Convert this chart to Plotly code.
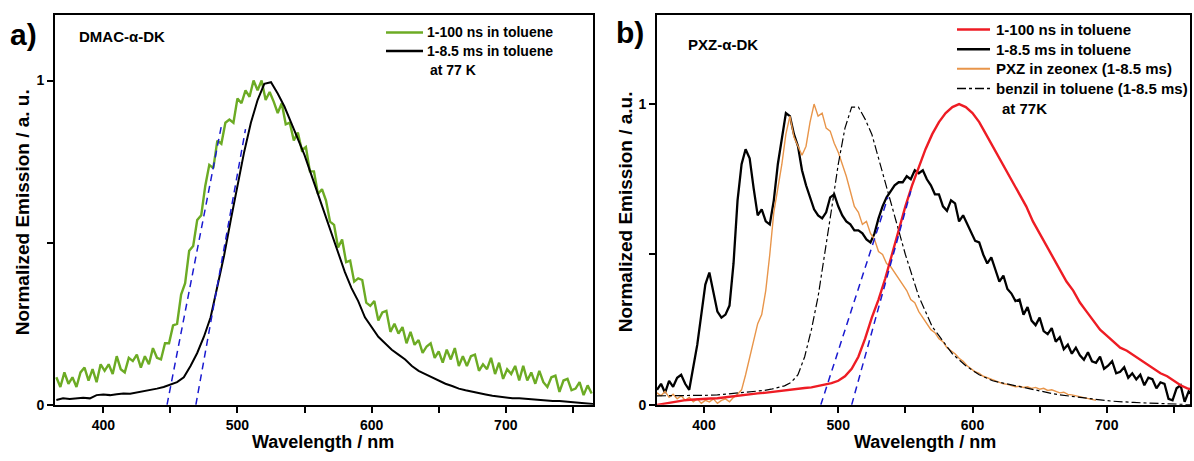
import plotly.graph_objects as go

W, H = 1194, 461

# ---------------- data ----------------
# panel a) DMAC-a-DK
wl_a_green = list(range(365, 767, 3))
a_green = [
    0.085, 0.055, 0.10, 0.065, 0.085, 0.055, 0.10, 0.115, 0.075, 0.11,
    0.07, 0.125, 0.105, 0.125, 0.095, 0.15, 0.11, 0.10, 0.145, 0.135,
    0.155, 0.115, 0.15, 0.125, 0.175, 0.145, 0.14, 0.19, 0.19, 0.245,
    0.25, 0.34, 0.375, 0.475, 0.49, 0.57, 0.585, 0.675, 0.74, 0.73,
    0.815, 0.805, 0.87, 0.88, 0.87, 0.945, 0.93, 0.97, 0.95, 1.0,
    0.97, 1.0, 0.94, 0.965, 0.935, 0.90, 0.93, 0.865, 0.87, 0.815,
    0.84, 0.785, 0.795, 0.72, 0.72, 0.65, 0.665, 0.63, 0.565, 0.555,
    0.485, 0.51, 0.44, 0.445, 0.38, 0.39, 0.385, 0.315, 0.305, 0.32,
    0.26, 0.285, 0.29, 0.225, 0.25, 0.22, 0.24, 0.19, 0.225, 0.185,
    0.20, 0.16, 0.18, 0.19, 0.145, 0.165, 0.13, 0.17, 0.14, 0.175,
    0.12, 0.15, 0.12, 0.15, 0.155, 0.105, 0.125, 0.11, 0.145, 0.095,
    0.13, 0.08, 0.11, 0.095, 0.12, 0.075, 0.12, 0.075, 0.10, 0.065,
    0.105, 0.07, 0.055, 0.085, 0.09, 0.04, 0.075, 0.08, 0.045, 0.05,
    0.07, 0.03, 0.06, 0.035,
]

wl_a_black = list(range(365, 766, 5))
a_black = [
    0.015, 0.02, 0.018, 0.02, 0.022, 0.02, 0.03, 0.032, 0.03, 0.033,
    0.035, 0.034, 0.038, 0.04, 0.045, 0.05, 0.055, 0.062, 0.07, 0.085,
    0.12, 0.16, 0.21, 0.27, 0.36, 0.46, 0.57, 0.68, 0.78, 0.87,
    0.94, 0.99, 0.995, 0.96, 0.92, 0.87, 0.82, 0.77, 0.71, 0.65,
    0.59, 0.53, 0.47, 0.41, 0.36, 0.32, 0.27, 0.24, 0.21, 0.19,
    0.17, 0.155, 0.14, 0.12, 0.105, 0.095, 0.085, 0.075, 0.065, 0.058,
    0.05, 0.045, 0.04, 0.035, 0.032, 0.028, 0.025, 0.023, 0.02, 0.02,
    0.018, 0.016, 0.015, 0.014, 0.012, 0.012, 0.01, 0.008, 0.006, 0.004,
    0.003,
]

# onset tangents (wavelength, intensity)
a_onset1_wl = [447.5, 488]
a_onset1_y = [0.0, 0.86]
a_onset2_wl = [469, 506]
a_onset2_y = [0.0, 0.85]

# panel b) PXZ-a-DK
wl_b_black = list(range(365, 767, 3))
b_black = [
    0.05, 0.07, 0.04, 0.08, 0.06, 0.09, 0.10, 0.07, 0.05, 0.13,
    0.20, 0.30, 0.40, 0.44, 0.37, 0.31, 0.29, 0.30, 0.33, 0.47,
    0.68, 0.80, 0.85, 0.82, 0.72, 0.63, 0.65, 0.61, 0.60, 0.68,
    0.80, 0.88, 0.97, 0.96, 0.90, 0.86, 0.78, 0.73, 0.69, 0.65,
    0.63, 0.62, 0.64, 0.69, 0.70, 0.66, 0.63, 0.61, 0.60, 0.58,
    0.58, 0.57, 0.55, 0.54, 0.57, 0.62, 0.66, 0.69, 0.71, 0.73,
    0.74, 0.74, 0.76, 0.75, 0.78, 0.77, 0.78, 0.75, 0.73, 0.70,
    0.70, 0.66, 0.645, 0.68, 0.67, 0.61, 0.63, 0.60, 0.575, 0.545,
    0.54, 0.50, 0.47, 0.49, 0.45, 0.41, 0.43, 0.385, 0.37, 0.345,
    0.35, 0.30, 0.325, 0.28, 0.265, 0.29, 0.245, 0.235, 0.255, 0.21,
    0.225, 0.185, 0.20, 0.17, 0.19, 0.165, 0.15, 0.175, 0.145, 0.14,
    0.16, 0.12, 0.13, 0.145, 0.105, 0.11, 0.125, 0.09, 0.105, 0.085,
    0.10, 0.065, 0.09, 0.085, 0.055, 0.075, 0.07, 0.02, 0.015, 0.055,
    0.065, 0.01, 0.045, 0.03,
]

wl_b_orange = list(range(365, 693, 3))
b_orange = [
    0.04, 0.03, 0.045, 0.025, 0.035, 0.02, 0.03, 0.015, 0.025, 0.01,
    0.02, 0.005, 0.015, 0.01, 0.02, 0.005, 0.015, 0.02, 0.01, 0.025,
    0.035, 0.05, 0.10, 0.16, 0.22, 0.27, 0.30, 0.38, 0.50, 0.64,
    0.72, 0.80, 0.90, 0.96, 0.89, 0.86, 0.83, 0.86, 0.94, 1.0,
    0.96, 0.97, 0.92, 0.91, 0.87, 0.84, 0.80, 0.76, 0.71, 0.66,
    0.64, 0.60, 0.61, 0.57, 0.55, 0.51, 0.50, 0.47, 0.46, 0.44,
    0.42, 0.40, 0.38, 0.35, 0.34, 0.31, 0.29, 0.27, 0.25, 0.24,
    0.22, 0.21, 0.19, 0.18, 0.17, 0.155, 0.145, 0.13, 0.12, 0.11,
    0.105, 0.095, 0.09, 0.085, 0.08, 0.075, 0.07, 0.068, 0.065, 0.06,
    0.062, 0.058, 0.06, 0.055, 0.058, 0.052, 0.055, 0.048, 0.05, 0.045,
    0.04, 0.042, 0.035, 0.033, 0.03, 0.028, 0.025, 0.02, 0.018, 0.015,
]

wl_b_smooth = list(range(365, 766, 5))
b_red = [
    0.0, 0.004, 0.008, 0.012, 0.015, 0.017, 0.019, 0.02, 0.021, 0.022,
    0.025, 0.028, 0.03, 0.033, 0.035, 0.038, 0.04, 0.043, 0.045, 0.048,
    0.05, 0.053, 0.056, 0.058, 0.062, 0.066, 0.072, 0.08, 0.095, 0.12,
    0.16, 0.22, 0.29, 0.35, 0.42, 0.50, 0.58, 0.66, 0.73, 0.79,
    0.85, 0.90, 0.94, 0.97, 0.99, 1.0, 0.99, 0.97, 0.94, 0.90,
    0.86, 0.82, 0.78, 0.74, 0.70, 0.66, 0.61, 0.57, 0.53, 0.49,
    0.45, 0.41, 0.38, 0.34, 0.31, 0.28, 0.25, 0.23, 0.21, 0.19,
    0.18, 0.165, 0.15, 0.135, 0.12, 0.105, 0.095, 0.08, 0.065, 0.055,
    0.05,
]
b_benzil = [
    0.03, 0.03, 0.03, 0.03, 0.03, 0.03, 0.03, 0.03, 0.032, 0.033,
    0.035, 0.037, 0.038, 0.04, 0.042, 0.045, 0.048, 0.052, 0.057, 0.063,
    0.075, 0.10, 0.16, 0.25, 0.36, 0.50, 0.65, 0.80, 0.92, 0.99,
    0.99, 0.95, 0.90, 0.82, 0.74, 0.66, 0.58, 0.50, 0.43, 0.36,
    0.31, 0.26, 0.23, 0.20, 0.17, 0.15, 0.13, 0.115, 0.10, 0.09,
    0.08, 0.075, 0.07, 0.065, 0.06, 0.055, 0.05, 0.045, 0.041, 0.037,
    0.033, 0.03, 0.027, 0.024, 0.021, 0.018, 0.016, 0.014, 0.012, 0.01,
    0.009, 0.008, 0.007, 0.006, 0.005, 0.004, 0.003, 0.002, 0.001, 0.0,
    0.0,
]

b_onset1_wl = [487, 537]
b_onset1_y = [0.0, 0.69]
b_onset2_wl = [510, 554]
b_onset2_y = [0.0, 0.71]

x_ticks = [400, 450, 500, 550, 600, 650, 700, 750]
x_ticktext = ["400", "", "500", "", "600", "", "700", ""]
y_ticks = [0, 0.5, 1]
y_ticktext = ["0", "", "1"]

legend_a = ["1-100 ns in toluene", "1-8.5 ms in toluene"]
legend_b = ["1-100 ns in toluene", "1-8.5 ms in toluene",
            "PXZ in zeonex (1-8.5 ms)", "benzil in toluene (1-8.5 ms)"]

# ---------------- styles ----------------
GREEN = "#6cab24"
RED = "#ee1c24"
ORANGE = "#e8954a"
BLUE = "#1a1ad0"
FONT = "Liberation Sans, Arial, sans-serif"


def px(x):
    return x / W


def py(y):
    return 1 - y / H


fig = go.Figure()

# panel a
fig.add_trace(go.Scatter(x=wl_a_green, y=a_green, mode="lines",
                         line=dict(color=GREEN, width=2.4), xaxis="x", yaxis="y"))
fig.add_trace(go.Scatter(x=wl_a_black, y=a_black, mode="lines",
                         line=dict(color="black", width=2), xaxis="x", yaxis="y"))
for xs, ys in [(a_onset1_wl, a_onset1_y), (a_onset2_wl, a_onset2_y)]:
    fig.add_trace(go.Scatter(x=xs, y=ys, mode="lines",
                             line=dict(color=BLUE, width=1.5, dash="7px,5px"),
                             xaxis="x", yaxis="y"))

# panel b
fig.add_trace(go.Scatter(x=wl_b_black, y=b_black, mode="lines",
                         line=dict(color="black", width=2.3), xaxis="x2", yaxis="y2"))
fig.add_trace(go.Scatter(x=wl_b_orange, y=b_orange, mode="lines",
                         line=dict(color=ORANGE, width=1.4), xaxis="x2", yaxis="y2"))
fig.add_trace(go.Scatter(x=wl_b_smooth, y=b_benzil, mode="lines",
                         line=dict(color="black", width=1.2, dash="dashdot"),
                         xaxis="x2", yaxis="y2"))
fig.add_trace(go.Scatter(x=wl_b_smooth, y=b_red, mode="lines",
                         line=dict(color=RED, width=2.4), xaxis="x2", yaxis="y2"))
for xs, ys in [(b_onset1_wl, b_onset1_y), (b_onset2_wl, b_onset2_y)]:
    fig.add_trace(go.Scatter(x=xs, y=ys, mode="lines",
                             line=dict(color=BLUE, width=1.5, dash="7px,5px"),
                             xaxis="x2", yaxis="y2"))

axis_common = dict(showline=True, linewidth=2, linecolor="black", mirror=True,
                   showgrid=False, zeroline=False, ticks="outside", ticklen=6,
                   tickwidth=2, tickcolor="black",
                   tickfont=dict(family=FONT, size=14, color="black", weight="bold"))

ydom = [py(412), py(15)]
fig.update_layout(
    width=W, height=H, margin=dict(l=0, r=0, t=0, b=0),
    paper_bgcolor="white", plot_bgcolor="white", showlegend=False,
    hovermode=False,
    xaxis=dict(domain=[px(55), px(593)], range=[364, 765], anchor="y",
               tickvals=x_ticks, ticktext=x_ticktext, **axis_common),
    yaxis=dict(domain=ydom, range=[0, 1.203], anchor="x",
               tickvals=y_ticks, ticktext=y_ticktext, **axis_common),
    xaxis2=dict(domain=[px(657), px(1190)], range=[365, 762], anchor="y2",
                tickvals=x_ticks, ticktext=x_ticktext, **axis_common),
    yaxis2=dict(domain=ydom, range=[0, 1.297], anchor="x2",
                tickvals=y_ticks, ticktext=y_ticktext, **axis_common),
)

ann = []


def text(x, y, s, size, xanchor="left", angle=0):
    ann.append(dict(x=px(x), y=py(y), xref="paper", yref="paper", text=s,
                    showarrow=False, xanchor=xanchor, yanchor="middle",
                    textangle=angle,
                    font=dict(family=FONT, size=size, color="black", weight="bold")))


# panel letters and titles
text(8, 35, "a)", 30)
text(614, 33, "b)", 30)
text(77, 37, "DMAC-α-DK", 15)
text(686, 45, "PXZ-α-DK", 15)
text(323, 450, "Wavelength / nm", 18, xanchor="center")
text(925, 450, "Wavelength / nm", 18, xanchor="center")
text(22, 216, "Normalized Emission / a. u.", 19, xanchor="center", angle=-90)
text(625, 216, "Normalized Emission / a.u.", 19, xanchor="center", angle=-90)

shapes = []


def leg_line(x0, x1, y, color, dash="solid", width=2.5):
    shapes.append(dict(type="line", xref="paper", yref="paper",
                       x0=px(x0), x1=px(x1), y0=py(y), y1=py(y),
                       line=dict(color=color, width=width, dash=dash)))


# legend a
leg_line(386, 423, 33, GREEN)
leg_line(386, 423, 52, "black")
text(425, 33, legend_a[0], 14)
text(425, 52, legend_a[1], 14)
text(428, 71, "at 77 K", 14)

# legend b
leg_line(957, 990, 30, RED)
leg_line(957, 990, 50, "black")
leg_line(957, 990, 70, ORANGE, width=2)
leg_line(957, 990, 90, "black", dash="dashdot", width=1.5)
for i, s in enumerate(legend_b):
    text(994, 30 + 20 * i, s, 15)
text(1000, 110, "at 77K", 15)

fig.update_layout(annotations=ann, shapes=shapes)

# the page body has a default 8px margin; remove it so the figure fills the window
fig.write_html("out.html",
               config={"displayModeBar": False, "staticPlot": True},
               post_script="document.body.style.margin='0';"
                           "document.body.style.overflow='hidden';")
